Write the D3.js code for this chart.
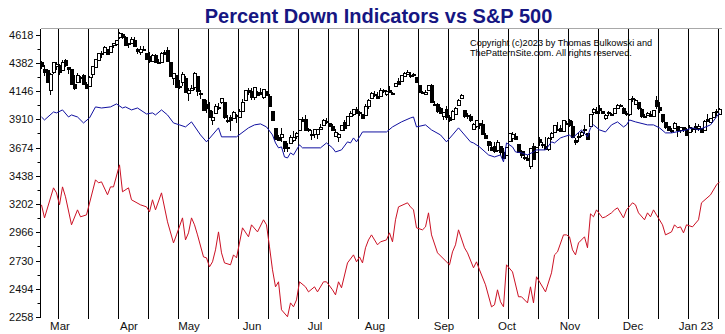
<!DOCTYPE html>
<html>
<head>
<meta charset="utf-8">
<script src="https://cdn.jsdelivr.net/npm/d3@7"></script>
<style>
  body { margin: 0; background: #fff; }
  svg text { font-family: Arial, 'Liberation Sans', sans-serif; }
</style>
</head>
<body>
<div class="chart-container"></div>
<script>
const w = 725,
      h = 334;

// daily S&P 500 bars, Feb 18 2022 .. Jan 13 2023: [open, high, low, close]
const ohlc = [
  [4385,4394,4327,4349],[4332,4363,4268,4305],[4324,4326,4222,4226],[4155,4294,4115,4289],[4298,4385,4287,4385],
  [4354,4389,4318,4374],[4364,4375,4279,4306],[4323,4401,4323,4387],[4401,4416,4345,4363],[4343,4343,4284,4329],
  [4327,4328,4199,4201],[4203,4277,4158,4171],[4223,4300,4223,4278],[4253,4268,4210,4260],[4279,4292,4200,4204],
  [4203,4219,4161,4173],[4188,4272,4188,4262],[4288,4358,4252,4358],[4345,4412,4335,4412],[4407,4465,4393,4463],
  [4463,4480,4425,4461],[4469,4522,4469,4512],[4494,4501,4455,4456],[4469,4520,4465,4520],[4523,4546,4502,4543],
  [4541,4575,4518,4576],[4602,4637,4582,4632],[4624,4627,4581,4602],[4599,4604,4530,4530],[4540,4549,4507,4546],
  [4547,4593,4546,4583],[4572,4594,4514,4525],[4495,4503,4451,4481],[4475,4521,4450,4500],[4494,4521,4485,4488],
  [4463,4464,4408,4413],[4437,4471,4381,4397],[4398,4453,4395,4447],[4449,4453,4392,4393],[4385,4411,4372,4392],
  [4390,4471,4390,4462],[4472,4489,4455,4459],[4489,4513,4385,4394],[4385,4386,4268,4272],[4256,4300,4200,4296],
  [4279,4279,4175,4175],[4187,4240,4163,4184],[4222,4308,4188,4288],[4253,4270,4132,4132],[4131,4170,4063,4155],
  [4159,4200,4147,4175],[4181,4308,4152,4300],[4270,4270,4107,4147],[4128,4158,4077,4123],[4082,4082,3976,3991],
  [4035,4068,3959,4001],[3991,4050,3928,3935],[3904,3981,3859,3930],[3964,4039,3964,4024],[4013,4047,3984,4008],
  [4052,4091,4034,4089],[4052,4052,3912,3924],[3900,3946,3877,3901],[3927,3944,3810,3901],[3920,3981,3909,3974],
  [3942,3956,3875,3941],[3929,3999,3925,3979],[3984,4076,3984,4058],[4077,4158,4077,4158],[4152,4169,4110,4132],
  [4150,4167,4074,4101],[4096,4177,4074,4177],[4137,4143,4107,4109],[4135,4168,4110,4121],[4096,4165,4080,4161],
  [4148,4150,4110,4116],[4102,4119,4017,4018],[3975,3975,3901,3901],[3838,3838,3735,3750],[3763,3778,3725,3735],
  [3764,3838,3723,3790],[3728,3729,3640,3667],[3665,3708,3637,3675],[3715,3779,3715,3765],[3734,3809,3723,3760],
  [3774,3803,3742,3796],[3821,3914,3821,3912],[3913,3928,3889,3900],[3913,3946,3820,3822],[3826,3836,3800,3819],
  [3786,3818,3738,3785],[3782,3829,3753,3825],[3793,3832,3743,3831],[3831,3871,3820,3845],[3858,3910,3858,3903],
  [3889,3919,3873,3899],[3880,3880,3847,3854],[3851,3874,3815,3819],[3769,3829,3759,3802],[3764,3796,3722,3790],
  [3818,3864,3818,3863],[3884,3903,3813,3831],[3861,3938,3861,3937],[3935,3975,3929,3960],[3955,3999,3937,3999],
  [3999,4013,3956,3962],[3965,3976,3937,3967],[3953,3954,3910,3921],[3951,4040,3951,4024],[4026,4078,3992,4072],
  [4087,4141,4080,4130],[4112,4144,4097,4119],[4105,4141,4080,4091],[4108,4167,4107,4155],[4155,4161,4129,4152],
  [4116,4152,4107,4145],[4155,4187,4128,4140],[4133,4138,4112,4122],[4181,4211,4178,4210],[4228,4258,4201,4207],
  [4226,4280,4220,4280],[4270,4301,4265,4297],[4291,4325,4277,4305],[4281,4303,4253,4274],[4274,4293,4265,4284],
  [4267,4267,4219,4228],[4195,4195,4131,4138],[4134,4150,4124,4129],[4127,4156,4120,4141],[4154,4200,4148,4199],
  [4198,4203,4057,4058],[4034,4062,4017,4031],[4041,4044,3965,3986],[4000,4016,3954,3955],[3937,3970,3903,3967],
  [3995,4019,3907,3924],[3931,3942,3887,3908],[3910,3987,3907,3980],[3959,4011,3944,4006],[4022,4076,4022,4067],
  [4084,4120,4084,4110],[3985,3985,3922,3933],[3940,3962,3915,3946],[3933,3957,3890,3901],[3830,3880,3828,3873],
  [3849,3901,3839,3900],[3876,3876,3828,3856],[3872,3907,3789,3790],[3782,3791,3750,3758],[3727,3727,3648,3693],
  [3682,3716,3645,3655],[3686,3717,3624,3647],[3651,3737,3640,3719],[3688,3688,3611,3640],[3633,3671,3584,3586],
  [3610,3679,3610,3678],[3726,3791,3726,3791],[3753,3807,3723,3783],[3771,3797,3745,3745],[3706,3707,3632,3640],
  [3648,3653,3588,3612],[3595,3641,3569,3589],[3590,3608,3571,3577],[3520,3674,3492,3670],[3690,3712,3583,3583],
  [3638,3677,3638,3678],[3746,3763,3689,3720],[3703,3719,3668,3695],[3689,3762,3657,3666],[3657,3758,3647,3753],
  [3762,3801,3733,3797],[3799,3862,3799,3859],[3825,3887,3825,3831],[3835,3859,3803,3807],[3809,3905,3809,3901],
  [3882,3893,3863,3872],[3901,3911,3844,3856],[3853,3894,3759,3760],[3733,3750,3698,3720],[3767,3796,3722,3771],
  [3780,3814,3763,3807],[3818,3860,3788,3828],[3796,3796,3745,3749],[3859,3958,3859,3956],[3964,4002,3944,3993],
  [3977,4009,3955,3957],[4007,4028,3954,3992],[3977,3983,3955,3959],[3919,3955,3906,3947],[3967,3980,3936,3965],
  [3956,3962,3934,3950],[3966,4004,3957,4004],[4000,4034,3999,4027],[4023,4034,4020,4026],[4005,4013,3956,3964],
  [3964,3976,3937,3958],[3957,4080,3940,4080],[4087,4101,4057,4077],[4041,4080,4027,4072],[4052,4052,3985,3999],
  [3997,4001,3919,3941],[3934,3951,3917,3934],[3948,3974,3935,3964],[3954,3977,3934,3934],[3940,3991,3937,3991],
  [4069,4101,3994,4020],[4016,4053,3965,3995],[3958,3958,3880,3896],[3891,3891,3828,3852],[3853,3855,3808,3818],
  [3810,3839,3796,3822],[3839,3889,3839,3878],[3854,3854,3764,3822],[3816,3846,3798,3845],[3843,3847,3803,3829],
  [3830,3840,3783,3783],[3805,3858,3805,3849],[3830,3840,3801,3840],[3853,3879,3795,3824],[3840,3874,3815,3853],
  [3839,3839,3802,3808],[3823,3907,3809,3895],[3910,3951,3890,3892],[3888,3920,3877,3919],[3932,3970,3925,3970],
  [3977,3997,3937,3983],[3960,4003,3950,3999]
];

// percent down indicators, [bar, value] on the price scale
const blueLine = [
  [0,3929],[1,3904],[4,3971],[5,3963],[7,3988],[9,3929],[10,3946],[12,3929],[14,3879],[16,3921],
  [18,4013],[20,4004],[23,4013],[25,4038],[27,4004],[28,4013],[30,3988],[32,4004],[35,3954],[37,3963],
  [38,3946],[40,3988],[42,3946],[44,3879],[46,3863],[48,3846],[50,3888],[53,3779],[55,3721],[59,3838],
  [60,3763],[65,3763],[69,3838],[71,3863],[73,3871],[75,3846],[77,3779],[78,3712],[79,3671],[80,3679],
  [81,3595],[82,3587],[83,3629],[84,3612],[86,3696],[87,3671],[93,3671],[95,3712],[97,3671],[98,3637],
  [100,3654],[102,3721],[103,3712],[104,3754],[105,3721],[107,3804],[115,3804],[117,3846],[120,3888],[123,3921],
  [124,3929],[125,3846],[128,3863],[130,3821],[133,3779],[135,3721],[137,3779],[139,3838],[143,3721],[144,3712],
  [146,3679],[149,3612],[151,3595],[153,3612],[154,3554],[155,3712],[157,3679],[158,3637],[160,3629],[162,3612],
  [164,3637],[165,3654],[168,3654],[170,3721],[171,3712],[173,3754],[174,3763],[176,3779],[177,3754],[180,3821],
  [182,3763],[183,3838],[184,3863],[186,3821],[188,3804],[190,3863],[192,3888],[194,3846],[195,3863],[196,3904],
  [198,3888],[202,3863],[204,3863],[206,3838],[208,3796],[210,3796],[215,3821],[217,3838],[219,3821],[223,3863],
  [226,3963]
];

const redLine = [
  [0,3195],[1,3086],[4,3337],[5,3295],[6,3195],[7,3345],[8,3262],[10,3028],[12,3153],[13,3095],
  [15,3111],[18,3404],[19,3379],[20,3387],[22,3279],[23,3345],[24,3345],[26,3529],[27,3304],[29,3337],
  [30,3237],[33,3195],[35,3178],[36,3136],[37,3237],[38,3153],[40,3295],[42,3053],[44,2877],[45,2944],
  [47,3086],[48,2902],[49,2961],[50,3086],[51,3028],[52,2944],[54,2760],[55,2752],[56,2677],[57,2719],
  [58,2819],[59,2969],[60,2794],[61,2710],[63,2694],[64,2777],[65,2752],[67,3003],[69,2928],[70,3028],
  [72,2969],[74,3070],[75,3028],[76,2844],[77,2652],[78,2510],[79,2552],[80,2318],[82,2260],[83,2376],
  [84,2343],[85,2401],[86,2552],[88,2510],[89,2468],[91,2510],[92,2468],[94,2552],[95,2552],[97,2485],
  [98,2443],[99,2552],[100,2502],[102,2710],[104,2777],[105,2719],[106,2760],[107,2710],[108,2836],[109,2902],
  [110,2944],[112,2861],[113,2886],[115,2902],[116,2961],[117,2886],[118,3070],[119,3178],[122,3212],[123,3178],
  [124,3153],[125,3003],[127,2986],[128,3011],[129,3128],[130,2944],[132,2794],[136,2694],[137,2802],[138,2861],
  [139,2986],[141,2836],[142,2794],[144,2669],[145,2719],[146,2652],[148,2527],[150,2343],[151,2360],[152,2485],
  [153,2385],[154,2343],[155,2694],[157,2635],[159,2427],[160,2427],[162,2376],[163,2510],[164,2376],[165,2594],
  [168,2468],[170,2627],[171,2777],[172,2802],[174,2944],[175,2944],[176,2928],[177,2819],[178,2777],[179,2877],
  [181,2928],[182,2836],[183,3120],[184,3095],[185,3153],[187,3086],[188,3095],[190,3128],[191,3153],[192,3170],
  [194,3086],[195,3153],[197,3212],[198,3195],[199,3128],[201,3070],[202,3128],[203,3095],[204,3153],[205,3111],
  [207,3028],[208,2944],[210,2969],[211,3028],[212,3003],[213,3011],[214,2961],[215,3028],[217,3011],[219,3070],
  [220,3212],[223,3278],[225,3362],[226,3387]
];

const yTicks = [2258, 2494, 2730, 2966, 3202, 3438, 3674, 3910, 4146, 4382, 4618];
const monthBars = [6, 29, 49, 70, 91, 111, 134, 155, 176, 197, 218];
const monthLabels = ['Mar', 'Apr', 'May', 'Jun', 'Jul', 'Aug', 'Sep', 'Oct', 'Nov', 'Dec', 'Jan 23'];

const plotTop = 28.5,
      plotBottom = 319,
      plotLeft = 40.5,
      plotRight = 722;

const svg = d3
  .select('.chart-container')
  .append('svg')
  .attr('width', w)
  .attr('height', h);

const xScale = d3.scaleLinear()
  .domain([0, ohlc.length - 1])
  .range([41.5, 41.5 + 3 * (ohlc.length - 1)]);

const yScale = d3.scaleLinear()
  .domain([2258, 4618])
  .range([317, 34.5]);

// title and notice
svg.append('text')
  .attr('x', 378.5)
  .attr('y', 23)
  .attr('text-anchor', 'middle')
  .style('font-size', '20px')
  .style('font-weight', 'bold')
  .style('fill', '#161682')
  .text('Percent Down Indicators vs S&P 500');

svg.append('text')
  .attr('x', 470)
  .attr('y', 46)
  .style('font-size', '9.2px')
  .style('fill', '#000')
  .text('Copyright (c)2023 by Thomas Bulkowski and');

svg.append('text')
  .attr('x', 470)
  .attr('y', 56)
  .style('font-size', '9.2px')
  .style('fill', '#000')
  .text('ThePatternSite.com. All rights reserved.');

// frame
svg.append('line')
  .attr('x1', plotLeft).attr('x2', plotRight)
  .attr('y1', plotTop).attr('y2', plotTop)
  .style('stroke', '#a8a8a8')
  .style('shape-rendering', 'crispEdges');

// vertical grid every 10 bars
const gridBars = d3.range(6, ohlc.length, 10);
svg.append('g')
  .selectAll('line')
  .data(gridBars)
  .enter()
  .append('line')
  .attr('x1', d => xScale(d) - 1)
  .attr('x2', d => xScale(d) - 1)
  .attr('y1', plotTop)
  .attr('y2', plotBottom)
  .style('stroke', '#000')
  .style('shape-rendering', 'crispEdges');

// y axis with half-step minor ticks
const yAxis = d3.axisLeft(yScale)
  .tickValues(yTicks)
  .tickSize(5)
  .tickSizeOuter(0)
  .tickPadding(2)
  .tickFormat(d3.format('d'));

const yAxisG = svg.append('g')
  .attr('transform', `translate(${plotLeft}, 0)`)
  .call(yAxis);

yAxisG.select('.domain').remove();
yAxisG.selectAll('text')
  .style('font-size', '11px')
  .style('fill', '#111');
yAxisG.selectAll('line').style('shape-rendering', 'crispEdges');

svg.append('g')
  .selectAll('line')
  .data(yTicks.slice(1).map(d => d - 118))
  .enter()
  .append('line')
  .attr('x1', plotLeft - 3)
  .attr('x2', plotLeft)
  .attr('y1', d => Math.round(yScale(d)) + 0.5)
  .attr('y2', d => Math.round(yScale(d)) + 0.5)
  .style('stroke', '#000');

svg.append('line')
  .attr('x1', plotLeft).attr('x2', plotLeft)
  .attr('y1', plotTop).attr('y2', 317)
  .style('stroke', '#000')
  .style('shape-rendering', 'crispEdges');

// month labels under the first trading day of each month
const xAxis = d3.axisBottom(xScale)
  .tickValues(monthBars)
  .tickSize(0)
  .tickPadding(3)
  .tickFormat((d, i) => monthLabels[i]);

const xAxisG = svg.append('g')
  .attr('transform', `translate(0, ${plotBottom})`)
  .call(xAxis);

xAxisG.select('.domain').remove();
xAxisG.selectAll('text')
  .style('font-size', '11.5px')
  .style('fill', '#111');

// candles: 4px bodies, hollow when the close is above the open
const candles = svg.append('g')
  .selectAll('.candle')
  .data(ohlc)
  .enter()
  .append('g')
  .attr('class', 'candle')
  .style('shape-rendering', 'crispEdges');

candles.append('line')
  .attr('x1', (d, i) => xScale(i))
  .attr('x2', (d, i) => xScale(i))
  .attr('y1', d => yScale(d[1]))
  .attr('y2', d => yScale(d[2]))
  .style('stroke', '#000');

candles.append('rect')
  .attr('x', (d, i) => xScale(i) - 1)
  .attr('y', d => Math.round(yScale(Math.max(d[0], d[3]))) + 0.5)
  .attr('width', 3)
  .attr('height', d => Math.max(1, Math.round(Math.abs(yScale(d[0]) - yScale(d[3])))))
  .style('stroke', '#000')
  .style('fill', d => d[3] > d[0] ? '#fff' : '#000');

// indicator lines on top
const line = d3.line()
  .x(d => xScale(d[0]))
  .y(d => yScale(d[1]));

svg.append('path')
  .datum(redLine)
  .attr('d', line)
  .style('fill', 'none')
  .style('stroke', '#cc1124')
  .style('stroke-width', 1);

svg.append('path')
  .datum(blueLine)
  .attr('d', line)
  .style('fill', 'none')
  .style('stroke', '#1010a0')
  .style('stroke-width', 1);
</script>
</body>
</html>
